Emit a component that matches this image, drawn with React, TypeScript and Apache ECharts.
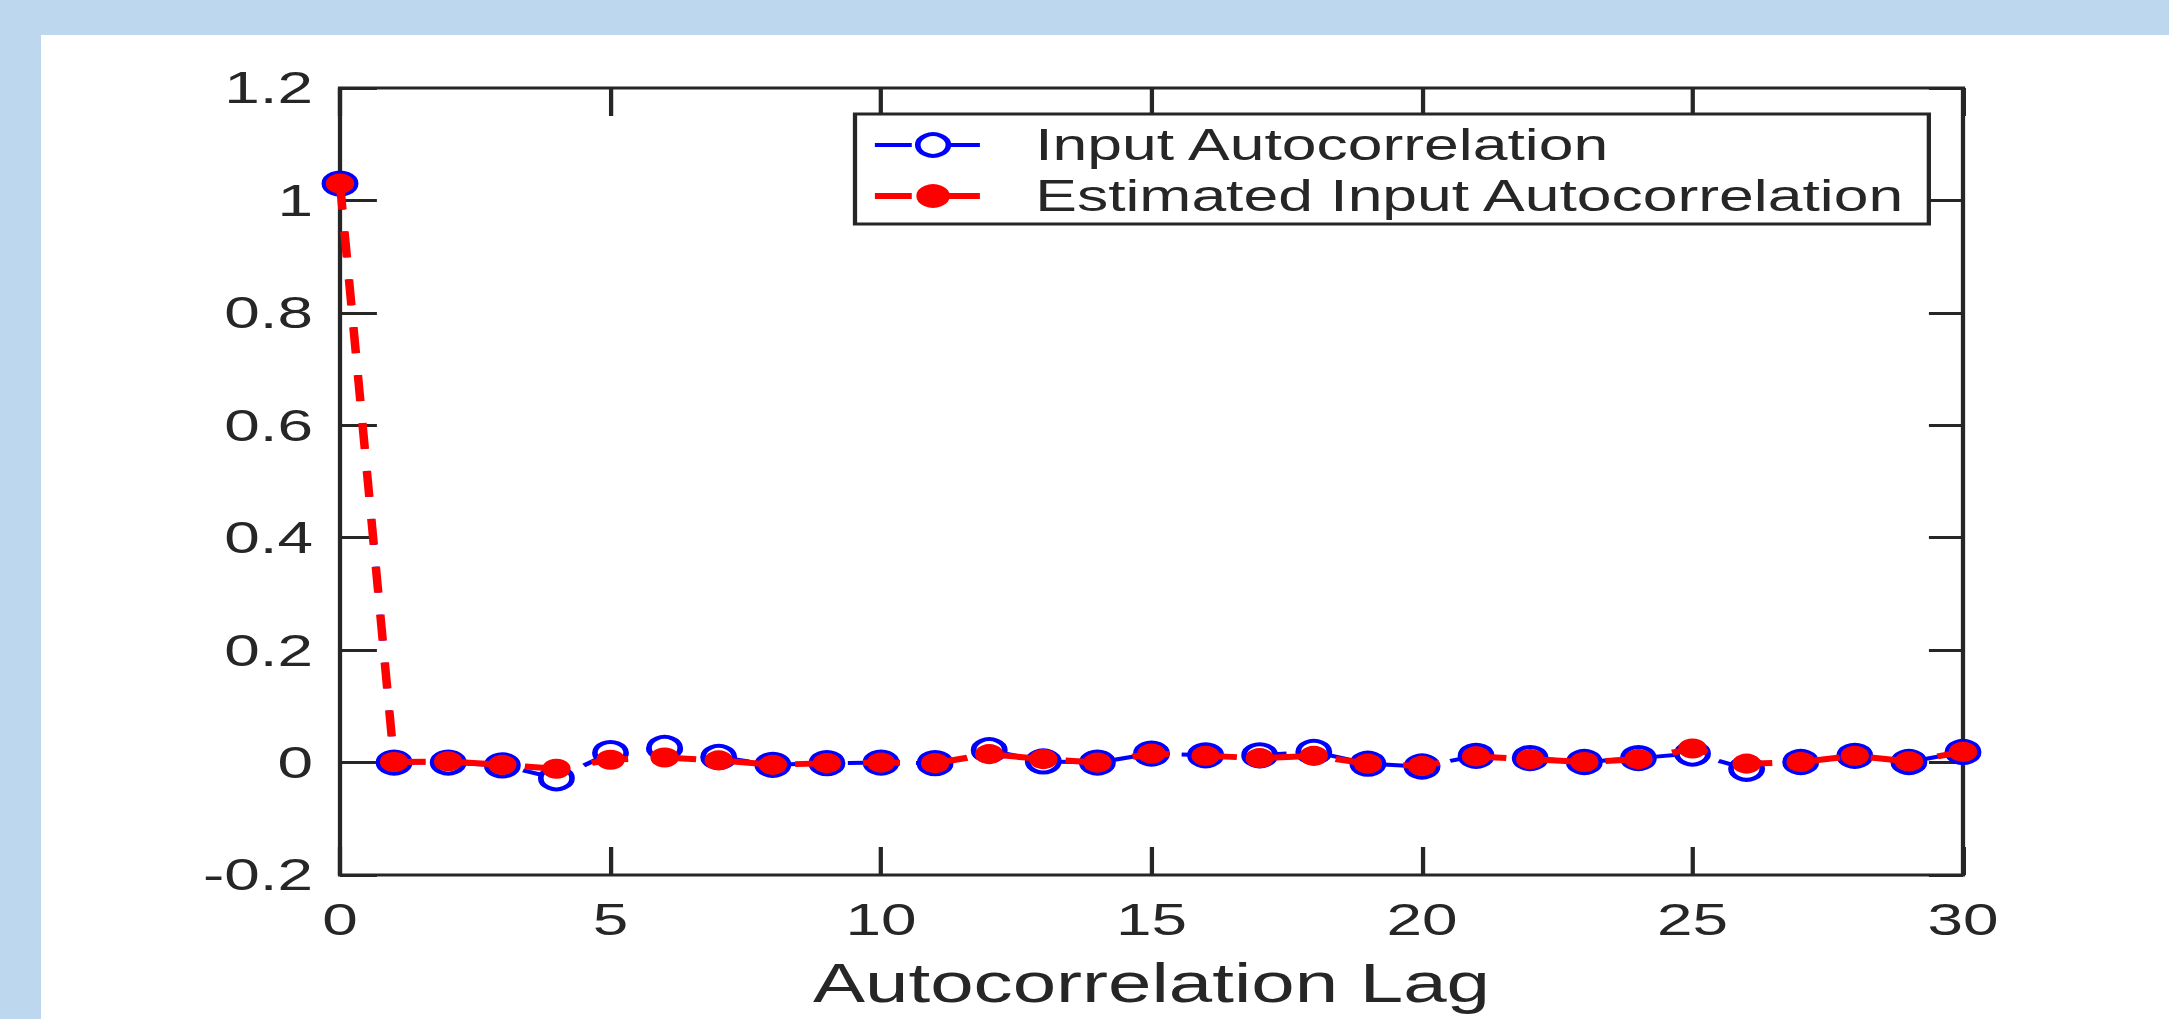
import React, { useEffect, useRef } from "react";
import * as echarts from "echarts";

// ---- data ----
const lags = [0, 1, 2, 3, 4, 5, 6, 7, 8, 9, 10, 11, 12, 13, 14, 15, 16, 17, 18, 19, 20, 21, 22, 23, 24, 25, 26, 27, 28, 29, 30];
const inputAutocorr = [
  1.03, 0.0, 0.0, -0.005, -0.028, 0.017, 0.026, 0.01, -0.004, -0.001, 0.0,
  -0.001, 0.022, 0.002, 0.0, 0.016, 0.013, 0.013, 0.019, -0.002, -0.007,
  0.012, 0.008, 0.001, 0.008, 0.016, -0.011, 0.001, 0.012, 0.001, 0.019,
];
const estimatedAutocorr = [
  1.03, 0.001, 0.002, -0.004, -0.011, 0.005, 0.009, 0.004, -0.004, -0.001, 0.0,
  -0.001, 0.015, 0.006, 0.0, 0.016, 0.012, 0.008, 0.012, -0.002, -0.006,
  0.011, 0.006, 0.001, 0.006, 0.025, -0.002, 0.001, 0.012, 0.002, 0.019,
];
const seriesNames = ["Input Autocorrelation", "Estimated Input Autocorrelation"];
const xAxisTitle = "Autocorrelation Lag";
const xTickRange = [0, 30];
const xTickStep = 5;
const yTickRange = [-0.2, 1.2];
const yTickStep = 0.2;

// ---- layout ----
const FULL_W = 2169;
const FULL_H = 1019;
const CHART_W = 1528;
const SX = FULL_W / CHART_W;

const FONT = '"Liberation Sans", Arial, Helvetica, sans-serif';
const AXIS = "#262626";
const BLUE = "#0000ff";
const RED = "#ff0000";
const DASH = [26, 22];

export default function App() {
  const ref = useRef<HTMLDivElement>(null);

  useEffect(() => {
    if (!ref.current) return;
    const chart = echarts.init(ref.current, undefined, { renderer: "svg" });

    const tickCommon = (len: number) => ({
      show: true,
      inside: true,
      length: len,
      lineStyle: { color: AXIS, width: 3 },
    });
    const noLine = { show: false, onZero: false };

    const blueItem = { color: "#ffffff", borderColor: BLUE, borderWidth: 4 };
    const blueLine = { color: BLUE, width: 4, type: DASH };
    const redItem = { color: RED, borderColor: RED, borderWidth: 2 };
    const redLine = { color: RED, width: 6, type: DASH };

    const option: any = {
      animation: false,
      backgroundColor: "transparent",
      grid: {
        left: 340 / SX,
        right: (FULL_W - 1963) / SX,
        top: 88,
        bottom: FULL_H - 875,
        show: true,
        borderColor: AXIS,
        borderWidth: 3,
        backgroundColor: "transparent",
        containLabel: false,
        outerBoundsMode: "none",
      },
      legend: {
        show: true,
        orient: "vertical",
        left: 855 / SX,
        top: 114,
        padding: [9, 15.6, 6, 11],
        itemWidth: 82,
        itemHeight: 27,
        itemGap: 7,
        backgroundColor: "#ffffff",
        borderColor: AXIS,
        borderWidth: 3,
        selectedMode: false,
        data: [
          { name: seriesNames[0], itemStyle: blueItem, lineStyle: blueLine },
          { name: seriesNames[1], itemStyle: redItem, lineStyle: redLine },
        ],
        textStyle: {
          fontSize: 44,
          lineHeight: 44,
          color: AXIS,
          fontFamily: FONT,
          padding: [0, 0, 0, 26],
        },
      },
      xAxis: [
        {
          type: "value",
          position: "bottom",
          min: xTickRange[0],
          max: xTickRange[1],
          interval: xTickStep,
          axisLine: noLine,
          axisTick: tickCommon(28),
          splitLine: { show: false },
          axisLabel: {
            margin: 22,
            fontSize: 45,
            color: AXIS,
            fontFamily: FONT,
          },
          name: xAxisTitle,
          nameLocation: "middle",
          nameGap: 80,
          nameTextStyle: { fontSize: 55, color: AXIS, fontFamily: FONT },
        },
        {
          type: "value",
          position: "top",
          min: xTickRange[0],
          max: xTickRange[1],
          interval: xTickStep,
          axisLine: noLine,
          axisTick: tickCommon(28),
          splitLine: { show: false },
          axisLabel: { show: false },
        },
      ],
      yAxis: [
        {
          type: "value",
          position: "left",
          min: yTickRange[0],
          max: yTickRange[1],
          interval: yTickStep,
          axisLine: noLine,
          axisTick: tickCommon(26),
          splitLine: { show: false },
          axisLabel: {
            margin: 19,
            fontSize: 45,
            color: AXIS,
            fontFamily: FONT,
            formatter: (v: number) => String(Math.round(v * 10) / 10),
          },
        },
        {
          type: "value",
          position: "right",
          min: yTickRange[0],
          max: yTickRange[1],
          interval: yTickStep,
          axisLine: noLine,
          axisTick: tickCommon(24),
          splitLine: { show: false },
          axisLabel: { show: false },
        },
      ],
      series: [
        {
          name: seriesNames[0],
          type: "line",
          xAxisIndex: 0,
          yAxisIndex: 0,
          data: lags.map((l, i) => [l, inputAutocorr[i]]),
          symbol: "circle",
          symbolSize: 22,
          clip: false,
          z: 2,
          itemStyle: blueItem,
          lineStyle: blueLine,
          emphasis: { disabled: true },
        },
        {
          name: seriesNames[1],
          type: "line",
          xAxisIndex: 0,
          yAxisIndex: 0,
          data: lags.map((l, i) => [l, estimatedAutocorr[i]]),
          symbol: "circle",
          symbolSize: 18,
          clip: false,
          z: 3,
          itemStyle: redItem,
          lineStyle: redLine,
          emphasis: { disabled: true },
        },
      ],
    };

    chart.setOption(option);
    return () => chart.dispose();
  }, []);

  return (
    <div
      style={{
        position: "fixed",
        left: 0,
        top: 0,
        width: FULL_W,
        height: FULL_H,
        background: "#BDD7EE",
        overflow: "hidden",
      }}
    >
      <div
        style={{
          position: "absolute",
          left: 41,
          top: 35,
          right: 0,
          bottom: 0,
          background: "#ffffff",
        }}
      />
      <div
        ref={ref}
        style={{
          position: "absolute",
          left: 0,
          top: 0,
          width: CHART_W,
          height: FULL_H,
          transform: `scaleX(${SX})`,
          transformOrigin: "0 0",
        }}
      />
    </div>
  );
}
